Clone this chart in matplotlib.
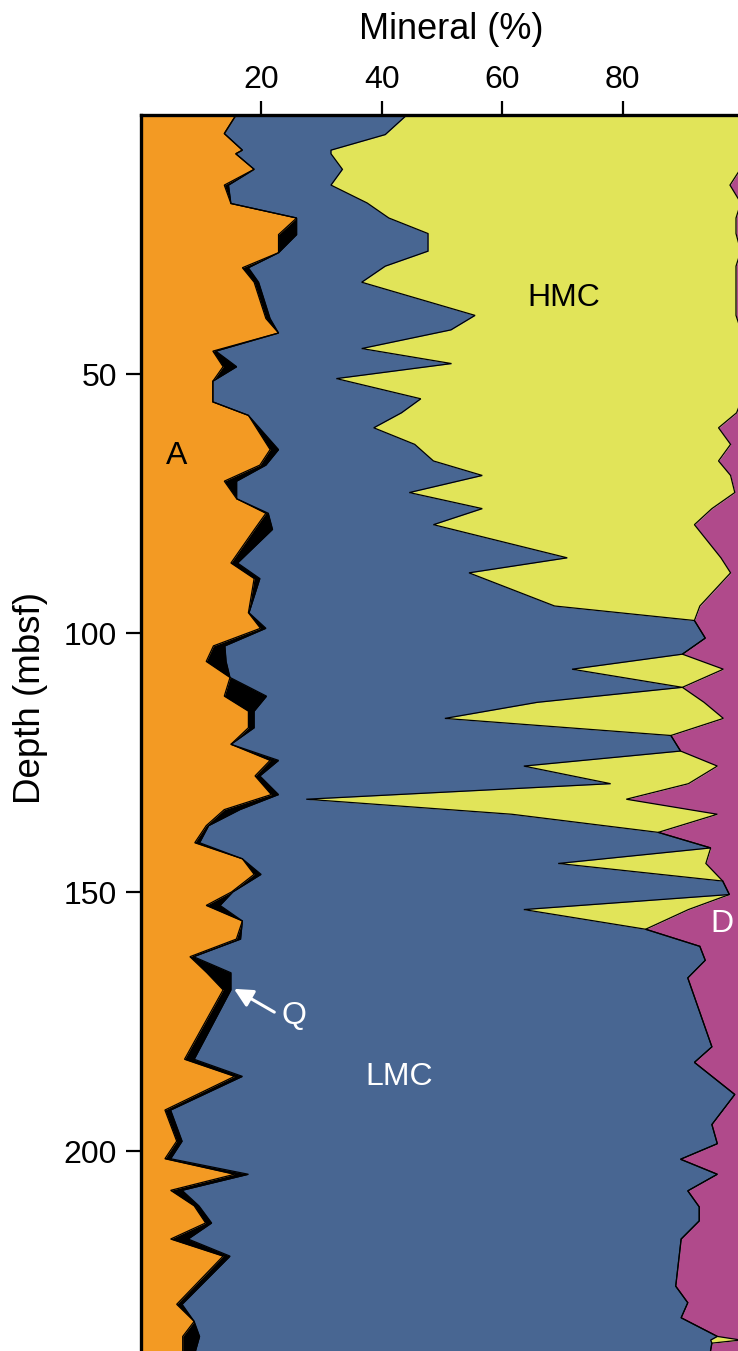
import numpy as np
import matplotlib
matplotlib.use("Agg")
import matplotlib.pyplot as plt

plt.rcParams['font.family'] = ['Liberation Sans', 'DejaVu Sans']

# ---- aragonite / quartz samples (depth in mbsf, percent) ----
depth_left = [0.0, 3.5, 6.7, 7.4, 10.4, 13.45, 17.0, 19.8, 23.0, 26.5,
              29.4, 32.2, 39.2, 42.0, 45.5, 48.5, 51.3, 55.3, 57.9, 64.5,
              67.5, 70.6, 74.0, 76.8, 79.9, 86.4, 89.4, 96.0, 99.0, 102.4,
              105.4, 108.5, 112.1, 115.0, 118.2, 121.4, 124.5, 127.5, 131.1, 134.0,
              137.1, 140.4, 143.5, 146.5, 149.9, 152.5, 155.5, 159.0, 162.4, 165.5,
              168.8, 182.2, 185.5, 192.0, 198.0, 201.4, 204.4, 207.5, 210.5, 213.8,
              216.9, 220.2, 229.5, 232.8, 235.7, 239.0]
aragonite = [15.8, 13.9, 16.9, 15.8, 18.85, 13.9, 15.0, 25.9, 22.9, 22.9,
             16.9, 18.85, 20.8, 22.9, 12.0, 13.7, 12.0, 12.0, 17.9, 21.5,
             19.8, 13.9, 15.95, 20.8, 18.9, 15.0, 18.85, 17.9, 19.9, 12.1,
             10.9, 14.85, 13.9, 17.9, 17.9, 15.0, 21.5, 19.0, 21.7, 13.9,
             10.9, 9.0, 16.9, 18.85, 15.1, 10.9, 16.9, 15.9, 8.2, 11.0,
             13.7, 7.3, 15.6, 4.05, 6.0, 4.05, 15.6, 5.0, 8.9, 10.8,
             5.0, 13.7, 6.0, 8.9, 7.0, 7.0]
quartz = [0.0, 0.0, 0.0, 0.0, 0.0, 0.7, 0.0, 0.0, 3.0, 0.0,
          1.0, 0.75, 0.7, 0.0, 0.5, 2.25, 0.0, 0.0, 0.0, 1.4,
          1.0, 2.05, 0.0, 0.4, 3.0, 1.1, 0.95, 0.1, 0.9, 1.9,
          3.3, 0.0, 7.0, 0.95, 0.95, 0.0, 1.4, 0.8, 1.2, 2.6,
          0.4, 0.8, 0.0, 1.15, 0.2, 2.3, 0.0, 0.7, 0.6, 4.0,
          1.3, 1.6, 1.3, 0.95, 0.9, 0.95, 2.3, 1.9, 0.8, 1.0,
          2.9, 1.15, 0.9, 0.0, 2.8, 2.0]

# ---- calcite / dolomite samples ----
depth_right = [0.0, 3.7, 6.7, 7.4, 10.4, 13.45, 16.9, 19.8, 22.8, 26.2,
               29.1, 32.2, 38.6, 41.4, 45.0, 47.9, 50.8, 54.7, 57.4, 60.3,
               63.5, 66.7, 69.5, 72.8, 75.9, 79.0, 85.4, 88.3, 94.7, 97.5,
               100.9, 104.0, 106.9, 110.4, 113.3, 116.4, 119.7, 122.7, 125.6, 129.0,
               132.0, 134.9, 138.4, 141.4, 144.4, 147.8, 150.4, 153.3, 157.1, 160.4,
               163.1, 166.5, 179.8, 182.8, 189.0, 194.8, 198.5, 201.5, 204.4, 207.6,
               210.7, 213.4, 216.9, 226.0, 229.2, 232.1, 235.7, 236.4, 237.0, 239.0]
# cumulative upper edge of the LMC band (aragonite + quartz + LMC)
lmc_edge = [44.1, 40.6, 31.6, 31.6, 33.5, 31.6, 37.6, 41.2, 47.7, 47.7,
            40.6, 36.7, 55.5, 51.5, 36.7, 51.6, 32.5, 46.5, 43.3, 38.7,
            45.5, 48.6, 56.7, 44.6, 56.7, 48.6, 70.8, 54.5, 68.7, 91.9,
            93.7, 89.9, 71.6, 89.9, 65.8, 50.5, 88.0, 89.6, 63.6, 78.0,
            27.5, 61.6, 85.9, 94.6, 69.3, 96.6, 97.7, 63.6, 83.8, 92.8,
            93.7, 90.8, 94.8, 91.9, 98.6, 94.8, 95.7, 89.6, 95.7, 90.8,
            92.7, 92.7, 89.7, 88.8, 90.8, 89.7, 95.7, 94.6, 94.8, 94.5]
hmc = [55.9, 59.4, 68.4, 68.4, 66.0, 66.2, 62.0, 57.6, 51.1, 51.9,
       58.2, 62.1, 43.3, 48.1, 62.9, 48.0, 67.1, 53.3, 55.6, 57.2,
       52.4, 47.3, 41.2, 54.0, 38.1, 43.3, 25.5, 43.4, 24.1, 0.0,
       0.0, 0.0, 25.1, 0.0, 27.7, 46.2, 0.0, 0.0, 32.1, 12.9,
       53.1, 34.1, 0.0, 0.0, 24.5, 0.0, 0.0, 27.3, 0.0, 0.0,
       0.0, 0.0, 0.0, 0.0, 0.0, 0.0, 0.0, 0.0, 0.0, 0.0,
       0.0, 0.0, 0.0, 0.0, 0.0, 0.0, 0.0, 5.0, 0.0, 0.0]

orange = '#F39A23'
blue = '#486692'
yellow = '#E1E459'
magenta = '#B04A8B'

dl = np.array(depth_left)
dr = np.array(depth_right)
a_edge = np.array(aragonite)
q_edge = a_edge + np.array(quartz)
l_edge = np.array(lmc_edge)
h_edge = l_edge + np.array(hmc)

fig = plt.figure(figsize=(7.38, 13.51), dpi=100)
ax = fig.add_axes([0.1904, -0.04404, 0.8167, 0.9586])

# stacked bands, drawn from the right-hand mineral to the left-hand one
ax.fill_betweenx(dr, h_edge, 100, color=magenta, lw=0)
ax.fill_betweenx(dr, l_edge, h_edge, color=yellow, lw=0)
ax.fill_betweenx(dr, 0, l_edge, color=blue, lw=0)
ax.fill_betweenx(dl, 0, q_edge, color='black', lw=0)
ax.fill_betweenx(dl, 0, a_edge, color=orange, lw=0)

for x, y in ((h_edge, dr), (l_edge, dr), (q_edge, dl), (a_edge, dl)):
    ax.plot(x, y, color='black', lw=0.9, solid_joinstyle='miter')

ax.set_xlim(0, 100)
ax.set_ylim(250, 0)

ax.xaxis.tick_top()
ax.set_xticks([20, 40, 60, 80])
ax.set_yticks([50, 100, 150, 200])
ax.tick_params(axis='x', direction='out', length=10, width=1.6, pad=5, labelsize=23)
ax.tick_params(axis='y', direction='out', length=11, width=1.6, pad=6, labelsize=23)
for side in ('top', 'left'):
    ax.spines[side].set_linewidth(2.4)
for side in ('right', 'bottom'):
    ax.spines[side].set_visible(False)

ax.set_xlabel('Mineral (%)', fontsize=26)
ax.xaxis.set_label_position('top')
ax.xaxis.set_label_coords(0.515, 1.066)
ax.xaxis.label.set_va('center')
ax.set_ylabel('Depth (mbsf)', fontsize=26.5)
ax.yaxis.set_label_coords(-0.183, 0.550)
ax.yaxis.label.set_va('center')

ax.text(6.0, 65.8, 'A', fontsize=23, ha='center', va='center', color='black')
ax.text(70.3, 35.2, 'HMC', fontsize=23, ha='center', va='center', color='black')
ax.text(43.0, 185.7, 'LMC', fontsize=23, ha='center', va='center', color='white')
ax.text(96.5, 156.0, 'D', fontsize=23, ha='center', va='center', color='white')
ax.text(25.4, 173.9, 'Q', fontsize=23, ha='center', va='center', color='white')
ax.annotate('', xy=(15.5, 168.6), xytext=(22.2, 173.1),
            arrowprops=dict(arrowstyle='-|>', color='white', lw=2.2,
                            mutation_scale=28, shrinkA=0, shrinkB=0))

fig.savefig('out.png', dpi=100)
